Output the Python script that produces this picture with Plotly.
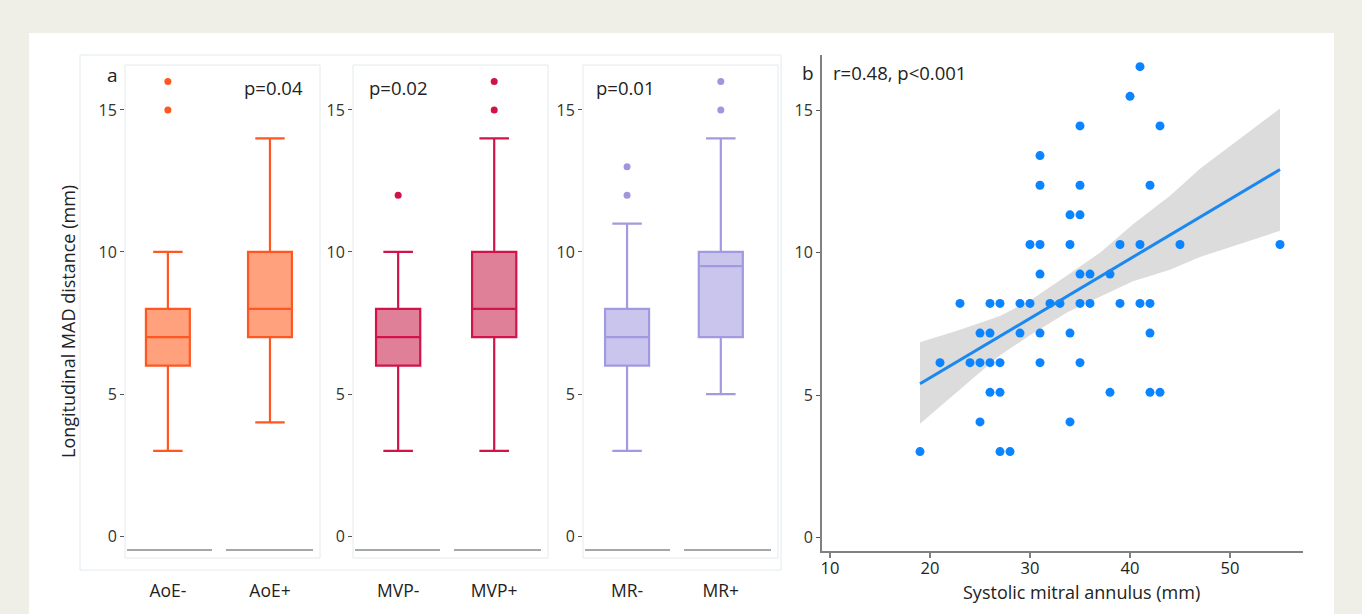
import plotly.graph_objects as go

W, H = 1362, 614
def px(x):
    return x / W
def py(y):
    return 1 - y / H

FONT = "Open Sans"

# ---------------- data: panel a (box plots) ----------------
groups = ["AoE-", "AoE+", "MVP-", "MVP+", "MR-", "MR+"]
lower_whisker = [3, 4, 3, 3, 3, 5]
q1 = [6, 7, 6, 7, 6, 7]
median = [7, 8, 7, 8, 7, 9.5]
q3 = [8, 10, 8, 10, 8, 10]
upper_whisker = [10, 14, 10, 14, 11, 14]
outliers = [[15, 16], [], [12], [15, 16], [12, 13], [15, 16]]
p_values = ["p=0.04", "p=0.02", "p=0.01"]

# ---------------- data: panel b (scatter) ----------------
annulus_mm = [41,
              40,
              35, 43,
              31,
              31, 35, 42,
              34, 35,
              30, 31, 34, 39, 41, 45, 55,
              31, 35, 36, 38,
              23, 26, 27, 29, 30, 32, 33, 35, 36, 39, 41, 42,
              25, 26, 29, 31, 34, 42,
              21, 24, 25, 26, 27, 31, 35,
              26, 27, 38, 42, 43,
              25, 34,
              19, 27, 28]
mad_mm = [16.53,
          15.49,
          14.45, 14.45,
          13.41,
          12.37, 12.37, 12.37,
          11.33, 11.33,
          10.29, 10.29, 10.29, 10.29, 10.29, 10.29, 10.29,
          9.25, 9.25, 9.25, 9.25,
          8.22, 8.22, 8.22, 8.22, 8.22, 8.22, 8.22, 8.22, 8.22, 8.22, 8.22, 8.22,
          7.18, 7.18, 7.18, 7.18, 7.18, 7.18,
          6.14, 6.14, 6.14, 6.14, 6.14, 6.14, 6.14,
          5.10, 5.10, 5.10, 5.10, 5.10,
          4.06, 4.06,
          3.02, 3.02, 3.02]
fit_x = [19, 55]
fit_y = [5.40, 12.92]
ci_x = [19, 23, 27, 30, 33.7, 37, 40.3, 44, 47, 51, 55]
ci_lower = [4.0, 5.2, 6.4, 7.1, 7.9, 8.45, 9.0, 9.4, 9.85, 10.3, 10.77]
ci_upper = [6.86, 7.3, 7.78, 8.32, 9.2, 10.0, 11.0, 12.0, 12.95, 14.0, 15.06]

# ---------------- styles ----------------
line_colors = ["#ff5722", "#ff5722", "#d0144a", "#d0144a", "#a29ae0", "#a29ae0"]
fill_colors = ["#ffa17c", "#ffa17c", "#e08098", "#e08098", "#c9c5ec", "#c9c5ec"]
out_colors = ["#ff5722", "#ff5722", "#d0144a", "#d0144a", "#9f96de", "#9f96de"]

panel_dom = [(125, 320), (353, 548), (583, 778)]
panel_range = [(-0.42, 1.49), (-0.47, 1.56), (-0.47, 1.61)]
box_w = [0.43, 0.46, 0.47]
ydom_box = (py(558), py(65))
yrange_box = (-0.77, 16.58)

fig = go.Figure()

for i, g in enumerate(groups):
    p = i // 2
    xa = "x" if p == 0 else f"x{p+1}"
    ya = "y" if p == 0 else f"y{p+1}"
    fig.add_trace(go.Box(
        x=[g], q1=[q1[i]], median=[median[i]], q3=[q3[i]],
        lowerfence=[lower_whisker[i]], upperfence=[upper_whisker[i]],
        boxpoints=False, width=box_w[p], whiskerwidth=0.67,
        line=dict(color=line_colors[i], width=2.2),
        fillcolor=fill_colors[i], xaxis=xa, yaxis=ya,
        showlegend=False, hoverinfo="skip"))
    if outliers[i]:
        fig.add_trace(go.Scatter(
            x=[g] * len(outliers[i]), y=outliers[i], mode="markers",
            marker=dict(color=out_colors[i], size=7),
            xaxis=xa, yaxis=ya, showlegend=False, hoverinfo="skip"))

# scatter panel
fig.add_trace(go.Scatter(
    x=ci_x + ci_x[::-1], y=ci_upper + ci_lower[::-1],
    fill="toself", fillcolor="#dcdcdc", line=dict(width=0),
    mode="lines", xaxis="x4", yaxis="y4", showlegend=False, hoverinfo="skip"))
fig.add_trace(go.Scatter(
    x=annulus_mm, y=mad_mm, mode="markers",
    marker=dict(color="#0a84ff", size=9),
    xaxis="x4", yaxis="y4", showlegend=False, hoverinfo="skip"))
fig.add_trace(go.Scatter(
    x=fit_x, y=fit_y, mode="lines", line=dict(color="#1a88f0", width=3),
    xaxis="x4", yaxis="y4", showlegend=False, hoverinfo="skip"))

tickfont = dict(family=FONT, size=16, color="#333333")
layout = dict(
    width=W, height=H,
    margin=dict(l=0, r=0, t=0, b=0),
    paper_bgcolor="#efefe7",
    plot_bgcolor="rgba(0,0,0,0)",
    font=dict(family=FONT, color="#222222"),
    showlegend=False,
)

for p in range(3):
    xk = "xaxis" if p == 0 else f"xaxis{p+1}"
    yk = "yaxis" if p == 0 else f"yaxis{p+1}"
    xa_anchor = "y" if p == 0 else f"y{p+1}"
    ya_anchor = "x" if p == 0 else f"x{p+1}"
    layout[xk] = dict(
        domain=[px(panel_dom[p][0]), px(panel_dom[p][1])],
        range=list(panel_range[p]), anchor=xa_anchor,
        type="category", categoryorder="array", categoryarray=groups[2*p:2*p+2],
        showgrid=False, zeroline=False, showline=False, ticks="",
        tickfont=dict(family=FONT, size=17.5, color="#222222"),
        ticklabelstandoff=20, fixedrange=True)
    layout[yk] = dict(
        domain=list(ydom_box), range=list(yrange_box), anchor=ya_anchor,
        tickvals=[0, 5, 10, 15], ticks="outside", ticklen=4, tickwidth=1,
        tickcolor="#555555", showgrid=False, zeroline=False, showline=False,
        tickfont=tickfont, ticklabelstandoff=0)

layout["xaxis4"] = dict(
    domain=[px(822), px(1303)], range=[9.2, 57.3], anchor="y4",
    tickvals=[10, 20, 30, 40, 50], ticks="outside", ticklen=5, tickwidth=2,
    tickcolor="#808080", showline=True, linecolor="#808080", linewidth=2,
    showgrid=False, zeroline=False, ticklabelstandoff=-4,
    tickfont=dict(family=FONT, size=16.5, color="#222222"))
layout["yaxis4"] = dict(
    domain=[py(551), py(55)], range=[-0.47, 16.94], anchor="x4",
    tickvals=[0, 5, 10, 15], ticks="outside", ticklen=4, tickwidth=1,
    tickcolor="#555555", showline=True, linecolor="#808080", linewidth=2,
    showgrid=False, zeroline=False, tickfont=tickfont)

shapes = []
# white content panel
shapes.append(dict(type="rect", xref="paper", yref="paper",
                   x0=px(29), x1=px(1334), y0=py(614), y1=py(33),
                   fillcolor="white", line=dict(width=0), layer="below"))
frame = "#e3eaed"
# outer frame of panel a
shapes.append(dict(type="rect", xref="paper", yref="paper",
                   x0=px(80), x1=px(781), y0=py(570), y1=py(55),
                   line=dict(color=frame, width=1), layer="below"))
for (a, b) in panel_dom:
    shapes.append(dict(type="rect", xref="paper", yref="paper",
                       x0=px(a), x1=px(b), y0=py(558), y1=py(65),
                       line=dict(color=frame, width=1), layer="below"))
    for (s0, s1) in [(2, 87), (101, 188)]:
        shapes.append(dict(type="line", xref="paper", yref="paper",
                           x0=px(a + s0), x1=px(a + s1), y0=py(550), y1=py(550),
                           line=dict(color="#8a8a8a", width=1.5)))
layout["shapes"] = shapes

ann = []
def add_text(t, x, y, size=17, xanchor="center", angle=0):
    ann.append(dict(text=t, x=px(x), y=py(y), xref="paper", yref="paper",
                    showarrow=False, xanchor=xanchor, yanchor="middle",
                    textangle=angle,
                    font=dict(family=FONT, size=size, color="#222222")))

add_text("a", 112, 75, 19)
add_text("b", 808, 73, 19)
for t, cx in zip(p_values, [273, 398, 625]):
    add_text(t, cx, 87, 18.5)
add_text("r=0.48, p<0.001", 831, 72, 18.5, xanchor="left")
add_text("Longitudinal MAD distance (mm)", 68, 322, 18, angle=-90)
add_text("Systolic mitral annulus (mm)", 1081, 592, 18)
layout["annotations"] = ann

fig.update_layout(**layout)
fig.write_html("out.html", config={"displayModeBar": False},
               post_script="document.body.style.margin='0';document.body.style.overflow='hidden';")
